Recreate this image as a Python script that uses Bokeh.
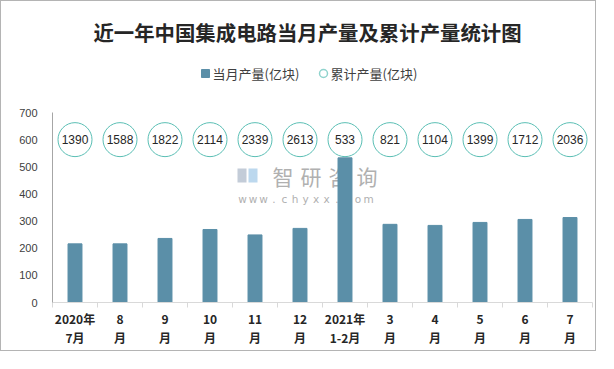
from bokeh.plotting import figure
from bokeh.models import FixedTicker
from bokeh.core.properties import value
from bokeh.embed import file_html
from bokeh.resources import INLINE

# ---------------- data ----------------
categories = ["2020年\n7月", "8\n月", "9\n月", "10\n月", "11\n月", "12\n月",
              "2021年\n1-2月", "3\n月", "4\n月", "5\n月", "6\n月", "7\n月"]
monthly = [216, 216, 236, 269, 249, 273, 533, 288, 284, 295, 306, 313]
cumulative = [1390, 1588, 1822, 2114, 2339, 2613, 533, 821, 1104, 1399, 1712, 2036]
y_ticks = [0, 100, 200, 300, 400, 500, 600, 700]
series_names = ["当月产量(亿块)", "累计产量(亿块)"]
title_text = "近一年中国集成电路当月产量及累计产量统计图"
watermark_name = "智研咨询"
watermark_url = "www.chyxx.com"

# ---------------- layout helpers ----------------
FONT_NAME = "Noto Sans CJK SC"
FONT = value(FONT_NAME)
BAR_COLOR = "#5b8fa8"
CIRCLE_COLOR = "#5bbfb5"
WM_COLOR = "#b0b0b0"
n = len(categories)
xs = [i + 0.5 for i in range(n)]
LABEL_Y = 600          # level at which the cumulative bubbles sit
PX_PER_UNIT = 190 / 700


def px_x(px):   # picture pixel -> data x
    return (px - 52) / 45


def px_y(py):   # picture pixel -> data y
    return (302 - py) / PX_PER_UNIT


p = figure(width=596, height=351, x_range=(0, n), y_range=(0, 301 / PX_PER_UNIT),
           output_backend="svg", toolbar_location=None,
           min_border_left=51, min_border_right=5, min_border_top=0, min_border_bottom=50)
p.styles = {"border": "1px solid #b4b4b4"}
p.outline_line_color = None
p.xgrid.grid_line_color = None
p.ygrid.grid_line_color = None
p.background_fill_color = "white"
p.border_fill_color = "white"

# y axis
p.yaxis.ticker = FixedTicker(ticks=y_ticks)
p.yaxis.bounds = (0, 700)
p.yaxis.major_tick_line_color = None
p.yaxis.minor_tick_line_color = None
p.yaxis.axis_line_color = "#a6a6a6"
p.yaxis.major_label_text_font = "Liberation Sans"
p.yaxis.major_label_text_font_size = "11px"
p.yaxis.major_label_text_color = "#404040"
p.yaxis.major_label_standoff = 9

# x axis
p.xaxis.ticker = FixedTicker(ticks=xs, minor_ticks=list(range(n + 1)))
p.xaxis.major_label_overrides = {x: c for x, c in zip(xs, categories)}
p.xaxis.major_tick_line_color = None
p.xaxis.major_tick_out = 0
p.xaxis.major_tick_in = 0
p.xaxis.minor_tick_line_color = "#d9d9d9"
p.xaxis.minor_tick_out = 5
p.xaxis.minor_tick_in = 0
p.xaxis.axis_line_color = "#d9d9d9"
p.xaxis.major_label_text_font = FONT_NAME
p.xaxis.major_label_text_font_style = "bold"
p.xaxis.major_label_text_font_size = "12px"
p.xaxis.major_label_text_color = "#262626"
p.xaxis.major_label_text_line_height = 1.12
p.xaxis.major_label_standoff = 2

# watermark (behind the bars)
p.quad(left=[px_x(237)], right=[px_x(246)], bottom=[px_y(182)], top=[px_y(168)],
       fill_color="#c3ccd8", line_color=None)
p.quad(left=[px_x(248)], right=[px_x(257)], bottom=[px_y(182)], top=[px_y(168)],
       fill_color="#bcd8ee", line_color=None)
p.text(x=[px_x(282.5 + 28 * i) for i in range(len(watermark_name))], y=[px_y(175)] * len(watermark_name),
       text=list(watermark_name), text_align="center", text_baseline="middle",
       text_font=FONT, text_font_size="21px", text_color=WM_COLOR)
p.text(x=[px_x(242 + 10.5 * i) for i in range(len(watermark_url))], y=[px_y(198)] * len(watermark_url),
       text=list(watermark_url), text_align="center", text_baseline="middle",
       text_font=value("DejaVu Sans"), text_font_size="10.5px", text_color=WM_COLOR)

# bars
p.vbar(x=xs, top=monthly, width=0.31, fill_color=BAR_COLOR, line_color=BAR_COLOR)

# cumulative bubbles
p.scatter(x=xs, y=[LABEL_Y] * n, marker="circle", size=34, fill_color="white",
          line_color=CIRCLE_COLOR, line_width=1)
p.text(x=xs, y=[LABEL_Y] * n, text=[str(v) for v in cumulative], text_align="center",
       text_baseline="middle", text_font=value("Liberation Sans"), text_font_size="12px",
       text_color="#262626")

# title
p.text(x=[px_x(307)], y=[px_y(31)], text=[title_text], text_align="center",
       text_baseline="middle", text_font=FONT, text_font_style="bold",
       text_font_size="20.4px", text_color="#262626")

# legend
p.scatter(x=[px_x(205)], y=[px_y(73)], marker="square", size=8,
          fill_color=BAR_COLOR, line_color=BAR_COLOR)
p.text(x=[px_x(212)], y=[px_y(73)], text=[series_names[0]], text_align="left",
       text_baseline="middle", text_font=FONT, text_font_size="13px", text_color="#404040")
p.scatter(x=[px_x(323)], y=[px_y(73)], marker="circle", size=8, fill_color="white",
          line_color="#8fd3cd", line_width=1.5)
p.text(x=[px_x(330)], y=[px_y(73)], text=[series_names[1]], text_align="left",
       text_baseline="middle", text_font=FONT, text_font_size="13px", text_color="#404040")

open("out.html", "w").write(file_html(p, INLINE))
